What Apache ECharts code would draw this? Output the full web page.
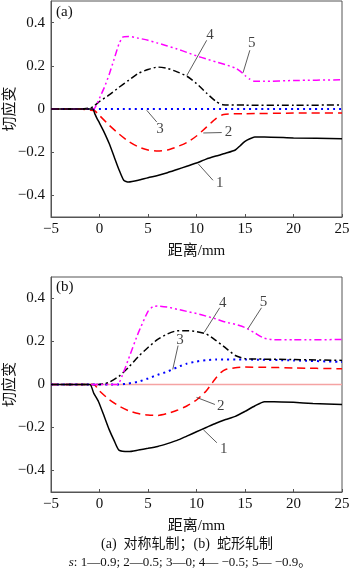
<!DOCTYPE html>
<html>
<head>
<meta charset="utf-8">
<script src="https://cdn.jsdelivr.net/npm/echarts@6/dist/echarts.min.js"></script>
<style>
  html, body { margin: 0; padding: 0; background: #fff; }
  #chart { width: 350px; height: 580px; }
</style>
</head>
<body>
<div id="chart"></div>
<script>
// (a) symmetric rolling, strain vs distance (mm)
var a1 = [[-5,0],[-0.7,0],[-0.5,-0.02],[-0.3,-0.04],[0,-0.065],[0.4,-0.1],[1,-0.16],[1.5,-0.22],[2,-0.28],[2.5,-0.33],[3,-0.338],[4,-0.33],[5,-0.318],[6,-0.308],[7,-0.295],[8,-0.28],[9,-0.265],[10,-0.25],[11,-0.232],[12,-0.218],[13,-0.205],[14,-0.19],[14.5,-0.17],[15,-0.15],[15.5,-0.138],[16,-0.13],[17,-0.13],[20,-0.134],[25,-0.138]];
var a2 = [[-5,0],[-2,0],[-1,-0.005],[-0.5,-0.008],[0,-0.03],[1,-0.075],[2,-0.115],[3,-0.15],[4,-0.175],[5,-0.19],[6,-0.195],[7,-0.19],[8,-0.175],[9,-0.155],[10,-0.125],[11,-0.085],[12,-0.045],[12.8,-0.025],[15,-0.022],[20,-0.019],[25,-0.018]];
var a3 = [[-5,0],[25,0]];
var a4 = [[-5,0],[-2,0],[-1,0.005],[-0.6,0.012],[0,0.035],[1,0.065],[2,0.1],[3,0.133],[4,0.165],[5,0.183],[6,0.194],[7,0.188],[8,0.172],[9,0.152],[10,0.118],[11,0.075],[12,0.035],[12.7,0.02],[15,0.018],[20,0.017],[25,0.019]];
var a5 = [[-5,0],[-0.6,0],[-0.3,0.02],[0,0.05],[0.5,0.1],[1,0.16],[1.5,0.23],[2,0.3],[2.4,0.333],[3,0.336],[4,0.328],[5,0.318],[6,0.305],[7,0.292],[8,0.278],[9,0.262],[10,0.246],[11,0.232],[12,0.218],[13,0.205],[14,0.19],[14.5,0.175],[15,0.155],[15.5,0.138],[16,0.128],[17,0.128],[20,0.132],[25,0.135]];

// (b) snake rolling
var b1 = [[-5,0],[-1,0],[-0.6,-0.04],[-0.1,-0.08],[0.5,-0.15],[1,-0.21],[1.5,-0.26],[2,-0.305],[3,-0.312],[4,-0.305],[5,-0.297],[6,-0.288],[7,-0.275],[8,-0.26],[9,-0.24],[10,-0.22],[11,-0.2],[12,-0.18],[13,-0.163],[14,-0.148],[15,-0.125],[16,-0.1],[17,-0.08],[18,-0.08],[20,-0.083],[22,-0.088],[25,-0.093]];
var b2 = [[-5,0],[-0.6,0],[0,-0.03],[1,-0.07],[2,-0.1],[3,-0.122],[4,-0.135],[5,-0.142],[6,-0.144],[7,-0.135],[8,-0.12],[9,-0.1],[10,-0.072],[11,-0.03],[12,0.03],[12.5,0.055],[13,0.07],[14,0.078],[15,0.081],[17,0.08],[20,0.077],[25,0.073]];
var b3 = [[-5,0],[2,0],[3,0.005],[4,0.013],[5,0.028],[6,0.045],[7,0.06],[8,0.08],[9,0.097],[10,0.107],[11,0.113],[12,0.116],[15,0.116],[20,0.112],[25,0.105]];
var b4 = [[-5,0],[0,0],[0.5,0.003],[1,0.01],[2,0.038],[3,0.08],[4,0.13],[5,0.172],[6,0.21],[7,0.235],[8,0.25],[9,0.25],[10,0.246],[11,0.235],[12,0.205],[13,0.17],[14,0.135],[15,0.12],[17,0.118],[20,0.116],[25,0.112]];
var b5 = [[-5,0],[1.8,0],[2.5,0.06],[3,0.12],[4,0.24],[5,0.34],[5.5,0.362],[6,0.365],[7,0.36],[8,0.35],[9,0.34],[10,0.33],[11,0.318],[12,0.305],[13,0.29],[14,0.28],[15,0.265],[16,0.24],[17,0.215],[18,0.208],[20,0.208],[25,0.209]];
var zeroLine = [[-5,0],[25,0]];

// curve number labels and leader lines (data coordinates)
var labelsA = [['1',12.4,-0.345],['2',13.3,-0.106],['3',6.24,-0.091],['4',11.4,0.341],['5',15.7,0.303]];
var leadersA = [[[11.7,-0.33],[10.2,-0.255]],[[12.6,-0.109],[10.7,-0.111]],[[5.9,-0.06],[4.87,-0.006]],[[11.05,0.318],[9.0,0.155]],[[15.5,0.272],[14.8,0.168]]];
var labelsB = [['1',12.8,-0.302],['2',12.5,-0.101],['3',8.3,0.209],['4',12.7,0.38],['5',16.9,0.385]];
var leadersB = [[[12.1,-0.271],[10.7,-0.21]],[[11.9,-0.093],[10.0,-0.06]],[[8.1,0.181],[7.55,0.07]],[[12.4,0.357],[10.8,0.243]],[[16.7,0.357],[15.3,0.259]]];

var xTicks = [-5, 0, 5, 10, 15, 20, 25];
var yTicks = [-0.4, -0.2, 0, 0.2, 0.4];

var serif = '"Liberation Serif", "Noto Sans CJK SC", serif';
var axisColor = '#555';

function fmt(v) {
  var s = String(Math.round(v * 10) / 10);
  return s.replace('-', '\u2212');
}

function xAxis(idx) {
  return {
    type: 'value', gridIndex: idx, min: -5, max: 25, interval: 5,
    name: '距离/mm', nameLocation: 'middle', nameGap: 27, nameMoveOverlap: false,
    nameTextStyle: { fontFamily: serif, fontSize: 15, color: '#111' },
    axisLine: { onZero: false, lineStyle: { color: axisColor, width: 1 } },
    axisTick: { inside: true, length: 3, lineStyle: { color: axisColor } },
    axisLabel: { fontFamily: serif, fontSize: 15, color: '#111', margin: 5, formatter: fmt },
    splitLine: { show: false }
  };
}
function yAxis(idx) {
  return {
    type: 'value', gridIndex: idx, min: -0.5, max: 0.5, interval: 0.1,
    name: '切应变', nameLocation: 'middle', nameGap: 33, nameMoveOverlap: false,
    nameTextStyle: { fontFamily: serif, fontSize: 15, color: '#111' },
    axisLine: { onZero: false, lineStyle: { color: axisColor, width: 1 } },
    axisTick: { inside: true, length: 3, customValues: yTicks, lineStyle: { color: axisColor } },
    axisLabel: { fontFamily: serif, fontSize: 15, color: '#111', margin: 6, customValues: yTicks, formatter: fmt },
    splitLine: { show: false }
  };
}

function line(idx, data, color, dash, width) {
  return {
    type: 'line', xAxisIndex: idx, yAxisIndex: idx, data: data,
    symbol: 'none', smooth: 0.2, z: 3,
    lineStyle: { color: color, width: width || 1.5, type: dash },
    silent: true
  };
}

function labelSeries(idx, labels) {
  return {
    type: 'scatter', xAxisIndex: idx, yAxisIndex: idx, symbolSize: 0, z: 5,
    data: labels.map(function (l) { return { value: [l[1], l[2]], name: l[0] }; }),
    label: { show: true, position: 'inside', formatter: '{b}', fontFamily: serif, fontSize: 15, color: '#111' }
  };
}
function leaderSeries(idx, leaders) {
  return {
    type: 'lines', coordinateSystem: 'cartesian2d', xAxisIndex: idx, yAxisIndex: idx, z: 5,
    data: leaders.map(function (l) { return { coords: l }; }),
    lineStyle: { color: '#333', width: 0.8, opacity: 1 }, symbol: 'none', silent: true
  };
}

var dashD = [8, 5], dotD = [2, 4], dashDot = [7, 3, 2, 3], dashDotDot = [7, 3, 2, 3, 2, 3];

var chart = echarts.init(document.getElementById('chart'), null, { renderer: 'canvas' });
chart.setOption({
  animation: false,
  backgroundColor: '#fff',
  grid: [
    { left: 51, top: 1, width: 291, height: 216, outerBoundsMode: 'none', containLabel: false, show: true, borderColor: axisColor, borderWidth: 1, backgroundColor: 'transparent' },
    { left: 51, top: 277, width: 291, height: 215, outerBoundsMode: 'none', containLabel: false, show: true, borderColor: axisColor, borderWidth: 1, backgroundColor: 'transparent' }
  ],
  xAxis: [xAxis(0), xAxis(1)],
  yAxis: [yAxis(0), yAxis(1)],
  series: [
    line(0, a3, '#0000ff', dotD, 2),
    line(0, a2, '#ff0000', dashD),
    line(0, a4, '#000000', dashDot),
    line(0, a5, '#ff00ff', dashDotDot),
    line(0, a1, '#000000', 'solid'),
    labelSeries(0, labelsA),
    leaderSeries(0, leadersA),
    Object.assign(line(1, zeroLine, '#f5a3a3', 'solid', 1.5), { z: 2, smooth: false }),
    line(1, b2, '#ff0000', dashD),
    line(1, b3, '#0000ff', dotD, 2),
    line(1, b4, '#000000', dashDot),
    line(1, b5, '#ff00ff', dashDotDot),
    line(1, b1, '#000000', 'solid'),
    labelSeries(1, labelsB),
    leaderSeries(1, leadersB)
  ],
  graphic: [
    { type: 'text', left: 56, top: 5, style: { text: '(a)', font: '15px ' + serif, fill: '#111' } },
    { type: 'text', left: 56, top: 280, style: { text: '(b)', font: '15px ' + serif, fill: '#111' } },
    { type: 'text', x: 187, y: 544, style: { text: '(a)  对称轧制；(b)  蛇形轧制', font: '14px ' + serif, fill: '#111', align: 'center', verticalAlign: 'middle' } },
    { type: 'text', x: 190, y: 563, style: {
        text: '{i|s}: 1—0.9; 2—0.5; 3—0; 4— \u22120.5; 5— \u22120.9。',
        font: '13px ' + serif, fill: '#111', align: 'center', verticalAlign: 'middle',
        rich: { i: { fontStyle: 'italic', font: 'italic 13px ' + serif } } } }
  ]
});
</script>
</body>
</html>
